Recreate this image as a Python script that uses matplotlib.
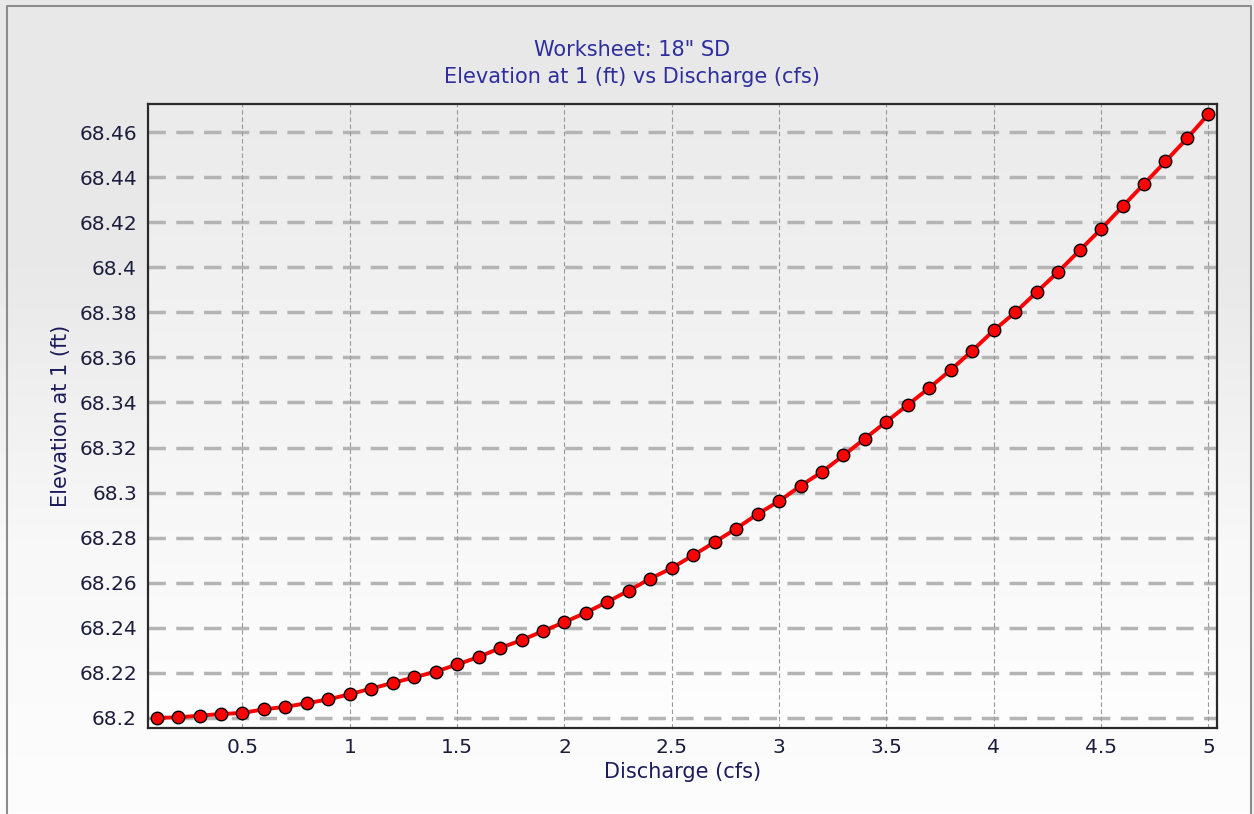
import numpy as np
import matplotlib
matplotlib.use('Agg')
import matplotlib.pyplot as plt
from matplotlib.patches import Rectangle

discharge = [0.1, 0.2, 0.3, 0.4, 0.5, 0.6, 0.7, 0.8, 0.9, 1.0,
             1.1, 1.2, 1.3, 1.4, 1.5, 1.6, 1.7, 1.8, 1.9, 2.0,
             2.1, 2.2, 2.3, 2.4, 2.5, 2.6, 2.7, 2.8, 2.9, 3.0,
             3.1, 3.2, 3.3, 3.4, 3.5, 3.6, 3.7, 3.8, 3.9, 4.0,
             4.1, 4.2, 4.3, 4.4, 4.5, 4.6, 4.7, 4.8, 4.9, 5.0]
elevation = [68.2000, 68.2002, 68.2010, 68.2017, 68.2022, 68.2038, 68.2049, 68.2065, 68.2082, 68.2105,
             68.2130, 68.2155, 68.2180, 68.2205, 68.2237, 68.2270, 68.2310, 68.2345, 68.2385, 68.2425,
             68.2467, 68.2515, 68.2565, 68.2618, 68.2665, 68.2722, 68.2780, 68.2840, 68.2905, 68.2962,
             68.3030, 68.3092, 68.3165, 68.3240, 68.3315, 68.3390, 68.3465, 68.3545, 68.3630, 68.3720,
             68.3800, 68.3890, 68.3980, 68.4075, 68.4170, 68.4270, 68.4370, 68.4470, 68.4572, 68.4680]
yticks = [68.2, 68.22, 68.24, 68.26, 68.28, 68.3, 68.32, 68.34, 68.36, 68.38, 68.4, 68.42, 68.44, 68.46]
ytick_labels = ['68.2', '68.22', '68.24', '68.26', '68.28', '68.3', '68.32', '68.34',
                '68.36', '68.38', '68.4', '68.42', '68.44', '68.46']
xticks = [0.5, 1, 1.5, 2, 2.5, 3, 3.5, 4, 4.5, 5]
xtick_labels = ['0.5', '1', '1.5', '2', '2.5', '3', '3.5', '4', '4.5', '5']

plt.rcParams['font.family'] = ['DejaVu Sans']
W, H = 1254, 814
fig = plt.figure(figsize=(W / 100, H / 100), dpi=100)

# figure background gradient
bg = fig.add_axes([0, 0, 1, 1], zorder=-10)
grad = np.linspace(0, 1, 256).reshape(-1, 1)
bg.imshow(grad, aspect='auto', cmap=matplotlib.colors.LinearSegmentedColormap.from_list(
    'bg', ['#e8e8e8', '#e9e9e9', '#f8f8f8', '#fdfdfd']), extent=[0, 1, 0, 1], origin='upper')
bg.set_xlim(0, 1)
bg.set_ylim(0, 1)
bg.axis('off')
# outer frame
bg.plot([7 / W, 7 / W, 1251 / W, 1251 / W], [0, 1 - 6 / H, 1 - 6 / H, 0],
        color='#8c8c8c', lw=1.5)
bg.add_patch(Rectangle((1252 / W, 0), 2 / W, 1, color='#f0f0f0'))

left, right, top, bottom = 148, 1217, 104, 728
ax = fig.add_axes([left / W, 1 - bottom / H, (right - left) / W, (bottom - top) / H])
ax.set_facecolor('none')
ax.imshow(grad, aspect='auto', extent=[0.06, 5.04, 68.1955, 68.4725], origin='upper', zorder=0,
          cmap=matplotlib.colors.LinearSegmentedColormap.from_list('ax', ['#ebebeb', '#fefefe']))

ax.set_xlim(0.06, 5.04)
ax.set_ylim(68.1955, 68.4725)

for yv in yticks:
    ax.axhline(yv, color='#b4b4b4', lw=2.5, dashes=(5, 3), zorder=1)
for xv in xticks:
    ax.axvline(xv, color='#999999', lw=0.8, dashes=(4, 2.5), zorder=1)

ax.plot(discharge, elevation, color='#ff0000', lw=2.8, marker='o', markersize=9,
        markerfacecolor='#ff0000', markeredgecolor='#000000', markeredgewidth=1.0, zorder=3,
        clip_on=False)

ax.set_xticks(xticks)
ax.set_xticklabels(xtick_labels)
ax.set_yticks(yticks)
ax.set_yticklabels(ytick_labels)
ax.tick_params(axis='both', length=0, labelsize=14.5, labelcolor='#1c1c3c')
ax.tick_params(axis='y', pad=8)
ax.tick_params(axis='x', pad=7)
for s in ax.spines.values():
    s.set_color('#2a2a2a')
    s.set_linewidth(1.6)

ax.set_xlabel('Discharge (cfs)', fontsize=15, color='#1c1c5c', labelpad=4)
ax.set_ylabel('Elevation at 1 (ft)', fontsize=15, color='#1c1c5c', labelpad=6)

fig.text(632 / W, 1 - 50 / H, 'Worksheet: 18" SD', ha='center', va='center',
         fontsize=15, color='#2e2e9e')
fig.text(632 / W, 1 - 77 / H, 'Elevation at 1 (ft) vs Discharge (cfs)', ha='center', va='center',
         fontsize=15, color='#2e2e9e')

fig.savefig('out.png', dpi=100)
